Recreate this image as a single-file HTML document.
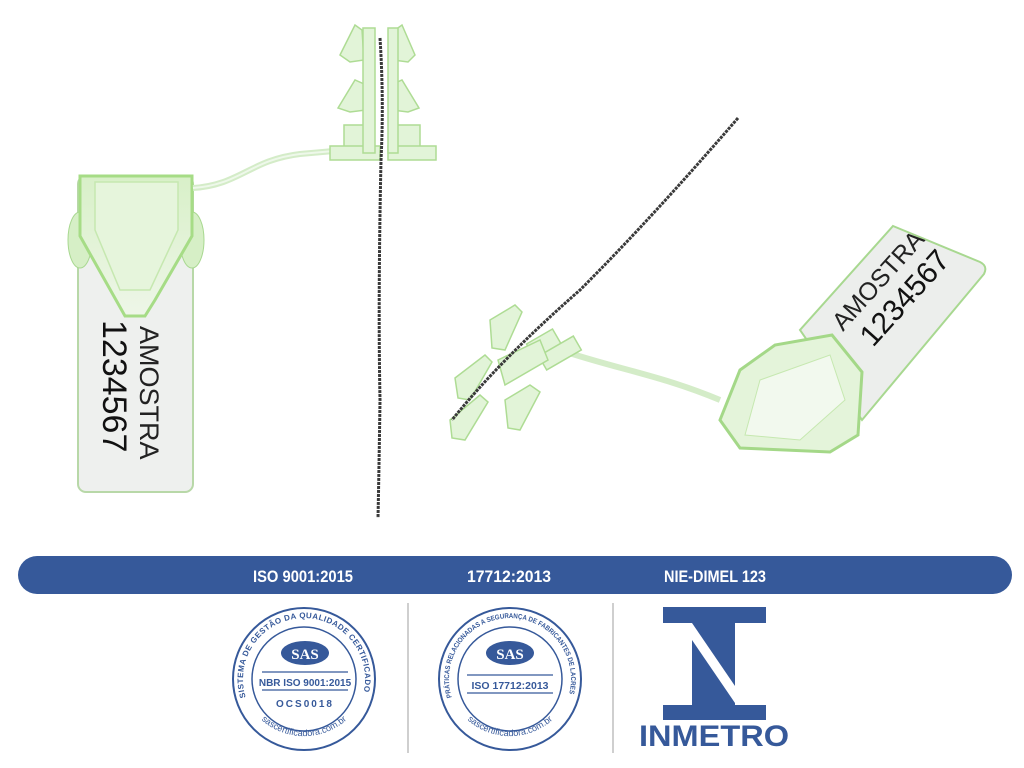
<!DOCTYPE html>
<html><head><meta charset="utf-8"><style>
html,body{margin:0;padding:0;background:#fff;}
svg{display:block;font-family:"Liberation Sans",sans-serif;}
</style></head><body>
<svg width="1024" height="768" viewBox="0 0 1024 768" xmlns="http://www.w3.org/2000/svg">
<defs>
<linearGradient id="g1" x1="0" y1="0" x2="0" y2="1"><stop offset="0" stop-color="#d8f0c8"/><stop offset="1" stop-color="#eef6e8"/></linearGradient>
</defs>
<rect width="1024" height="768" fill="#fff"/>
<!-- left tag -->
<rect x="78" y="176" width="115" height="316" rx="8" fill="#eef0ee" stroke="#b8d8a8" stroke-width="2"/>
<ellipse cx="80" cy="240" rx="12" ry="28" fill="#d6efc6" stroke="#a8d890"/>
<ellipse cx="192" cy="240" rx="12" ry="28" fill="#d6efc6" stroke="#a8d890"/>
<path d="M80 176 L192 176 L192 236 L155 300 L145 316 L125 316 L116 300 L80 236 Z" fill="url(#g1)" stroke="#a6dc86" stroke-width="3"/>
<path d="M95 182 L178 182 L178 230 L150 290 L120 290 L95 230 Z" fill="#e6f5dc" stroke="#c6e8b0" stroke-width="1.5"/>
<text transform="translate(140,326) rotate(90)" font-size="27" fill="#222">AMOSTRA</text>
<text transform="translate(103,320) rotate(90)" font-size="34" fill="#111">1234567</text>
<!-- stem -->
<path d="M193 188 C240 185 250 160 300 154 L345 150" fill="none" stroke="#d4ecc8" stroke-width="6"/>
<path d="M193 188 C240 185 250 160 300 154 L345 150" fill="none" stroke="#eef8ea" stroke-width="2"/>
<!-- lock head -->
<g fill="#e2f4d8" stroke="#aedc94" stroke-width="1.5">
<path d="M340 55 L355 25 L362 30 L364 60 L350 62 Z"/>
<path d="M415 55 L402 25 L395 30 L393 60 L408 62 Z"/>
<path d="M338 108 L355 80 L364 84 L366 110 L350 112 Z"/>
<path d="M419 108 L402 80 L393 84 L392 110 L408 112 Z"/>
<rect x="344" y="125" width="30" height="22"/>
<rect x="390" y="125" width="30" height="22"/>
<rect x="330" y="146" width="50" height="14"/>
<rect x="388" y="146" width="48" height="14"/>
<rect x="363" y="28" width="12" height="125"/>
<rect x="388" y="28" width="10" height="125"/>
</g>
<!-- wire left -->
<path d="M380 38 Q384 100 381 160 Q378 300 380 400 Q379 470 378 518" fill="none" stroke="#3a3a3a" stroke-width="3" stroke-dasharray="3 1"/>
<!-- right tag -->
<path d="M893 226 L980 262 Q988 266 984 274 L862 420 L800 330 Z" fill="#eceeec" stroke="#a8d890" stroke-width="2"/>
<text transform="translate(843,332) rotate(-48)" font-size="25" fill="#222">AMOSTRA</text>
<text transform="translate(873,348) rotate(-48)" font-size="30" fill="#111">1234567</text>
<path d="M740 370 L775 345 L832 335 L862 372 L858 435 L830 452 L740 448 L720 420 Z" fill="#e4f4da" stroke="#a4d888" stroke-width="3"/>
<path d="M760 380 L830 355 L845 400 L800 440 L745 435 Z" fill="#f2f9ee" stroke="#c6e8b0"/>
<!-- right stem -->
<path d="M560 350 C620 370 660 375 720 400" fill="none" stroke="#d4ecc8" stroke-width="6"/>
<!-- right lock head -->
<g fill="#e2f4d8" stroke="#aedc94" stroke-width="1.5">
<path d="M455 378 L485 355 L492 362 L470 400 L458 398 Z"/>
<path d="M450 420 L480 395 L488 402 L465 440 L452 438 Z"/>
<path d="M490 320 L515 305 L522 312 L505 350 L492 348 Z"/>
<path d="M505 400 L530 385 L540 392 L520 430 L508 428 Z"/>
<rect x="530" y="335" width="30" height="22" transform="rotate(-30 545 346)"/>
<rect x="540" y="345" width="40" height="16" transform="rotate(-30 560 353)"/>
<path d="M498 360 L540 340 L548 360 L505 385 Z"/>
</g>
<!-- wire right -->
<path d="M738 118 Q650 220 580 290 Q500 360 452 420" fill="none" stroke="#3a3a3a" stroke-width="3" stroke-dasharray="3 1"/>
<!-- band -->
<rect x="18" y="556" width="994" height="38" rx="19" fill="#36599a"/>
<g font-weight="bold" font-size="17" fill="#fff" font-family="Liberation Sans Narrow, Liberation Sans, sans-serif">
<text x="253" y="582" textLength="100" lengthAdjust="spacingAndGlyphs">ISO 9001:2015</text>
<text x="467" y="582" textLength="84" lengthAdjust="spacingAndGlyphs">17712:2013</text>
<text x="664" y="582" textLength="102" lengthAdjust="spacingAndGlyphs">NIE-DIMEL 123</text>
</g>
<!-- dividers -->
<rect x="407" y="603" width="2" height="150" fill="#cfcfcf"/>
<rect x="612" y="603" width="2" height="150" fill="#cfcfcf"/>
<!-- seals -->
<g fill="none" stroke="#36599a">
<circle cx="304" cy="679" r="71" stroke-width="2"/>
<circle cx="304" cy="679" r="52" stroke-width="1.5"/>
<circle cx="510" cy="679" r="71" stroke-width="2"/>
<circle cx="510" cy="679" r="52" stroke-width="1.5"/>
</g>
<defs>
<path id="arc1" d="M246.7 700 A61 61 0 1 1 361.3 700"/>
<path id="arc1b" d="M251 708 A64 64 0 0 0 357 708"/>
<path id="arc2" d="M452.7 700 A61 61 0 1 1 567.3 700"/>
<path id="arc2b" d="M457 708 A64 64 0 0 0 563 708"/>
</defs>
<g fill="#36599a" font-weight="bold">
<text font-size="8"><textPath href="#arc1" startOffset="3" textLength="222" lengthAdjust="spacing">SISTEMA DE GESTÃO DA QUALIDADE CERTIFICADO</textPath></text>
<text font-size="7"><textPath href="#arc2" startOffset="3" textLength="224" lengthAdjust="spacingAndGlyphs">PRÁTICAS RELACIONADAS A SEGURANÇA DE FABRICANTES DE LACRES</textPath></text>
</g>
<g fill="#36599a" font-size="9">
<text><textPath href="#arc1b" startOffset="50%" text-anchor="middle">sascertificadora.com.br</textPath></text>
<text><textPath href="#arc2b" startOffset="50%" text-anchor="middle">sascertificadora.com.br</textPath></text>
</g>
<ellipse cx="305" cy="653" rx="24" ry="12" fill="#36599a"/>
<text x="305" y="659" text-anchor="middle" font-size="15" font-weight="bold" fill="#fff" font-family="Liberation Serif,serif">SAS</text>
<ellipse cx="510" cy="653" rx="24" ry="12" fill="#36599a"/>
<text x="510" y="659" text-anchor="middle" font-size="15" font-weight="bold" fill="#fff" font-family="Liberation Serif,serif">SAS</text>
<g stroke="#36599a" stroke-width="1.2"><line x1="262" y1="672" x2="348" y2="672"/><line x1="262" y1="690" x2="348" y2="690"/><line x1="467" y1="675" x2="553" y2="675"/><line x1="467" y1="693" x2="553" y2="693"/></g>
<g fill="#36599a" font-weight="bold" text-anchor="middle">
<text x="305" y="686" font-size="10">NBR ISO 9001:2015</text>
<text x="305" y="707" font-size="10" letter-spacing="2">OCS0018</text>
<text x="510" y="689" font-size="10.5">ISO 17712:2013</text>
</g>
<!-- INMETRO -->
<g fill="#36599a">
<rect x="663" y="607" width="103" height="16"/>
<rect x="692" y="607" width="43" height="101"/>
<rect x="663" y="705" width="103" height="15"/>
</g>
<path d="M692 623 L735 686 L735 703 L692 640 Z" fill="#fff"/>
<text x="714" y="746" text-anchor="middle" font-size="30" font-weight="bold" fill="#36599a" textLength="150" lengthAdjust="spacingAndGlyphs">INMETRO</text>
</svg>
</body></html>
